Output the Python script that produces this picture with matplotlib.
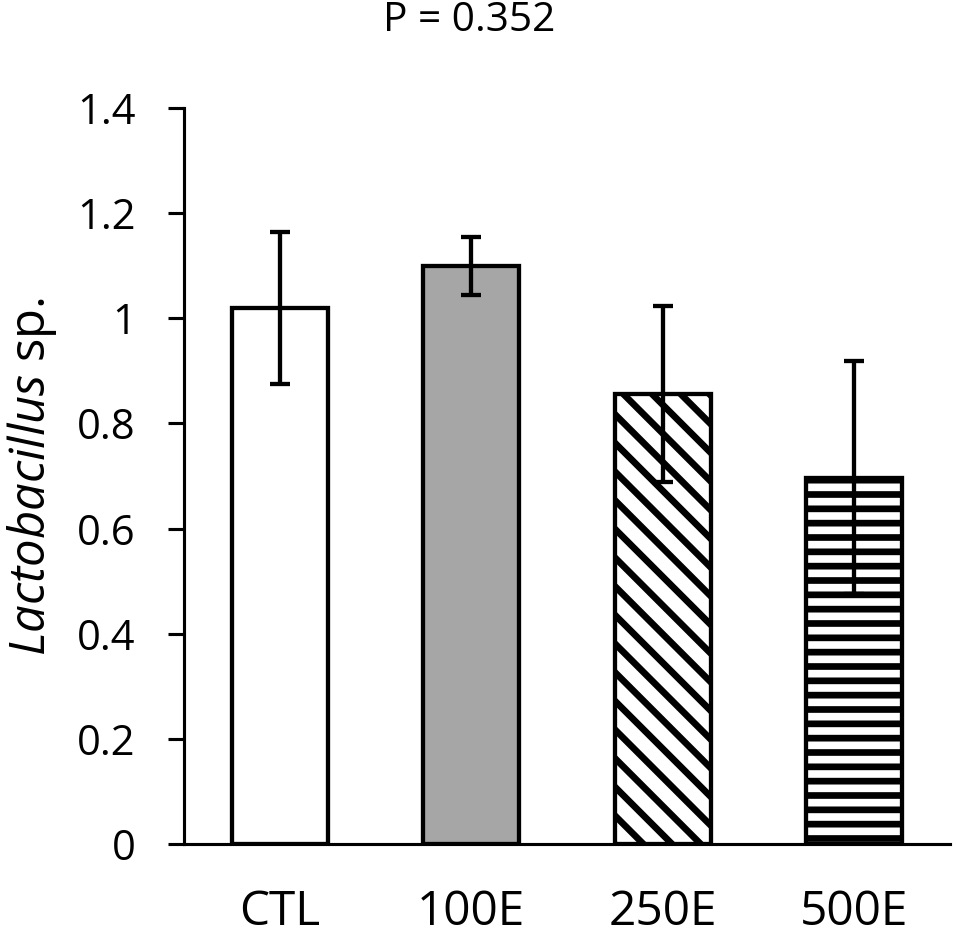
import numpy as np
import matplotlib
matplotlib.use('Agg')
import matplotlib.pyplot as plt
from matplotlib.ticker import FuncFormatter

groups = ['CTL', '100E', '250E', '500E']
means = [1.02, 1.10, 0.856, 0.697]
errors = [0.145, 0.055, 0.167, 0.221]
fills = ['white', '#a6a6a6', 'white', 'white']
hatches = ['', '', '\\\\', '--']
p_text = 'P = 0.352'
y_ticks = [0, 0.2, 0.4, 0.6, 0.8, 1.0, 1.2, 1.4]

plt.rcParams['font.family'] = ['Open Sans', 'DejaVu Sans']
plt.rcParams['mathtext.fontset'] = 'custom'
plt.rcParams['mathtext.it'] = 'Open Sans:italic'
plt.rcParams['mathtext.rm'] = 'Open Sans'
plt.rcParams['hatch.linewidth'] = 2.8
plt.rcParams['hatch.color'] = 'black'

dpi = 172
fig = plt.figure(figsize=(957 / dpi, 934 / dpi), dpi=dpi)
ax = fig.add_axes([184 / 957, 1 - 844 / 934, (950 - 184) / 957, (844 - 108) / 934])

x = np.arange(len(groups))
bars = ax.bar(x, means, width=0.5, color=fills, edgecolor='black',
              linewidth=1.8, zorder=2)
for b, h in zip(bars, hatches):
    b.set_hatch(h)

ax.errorbar(x, means, yerr=errors, fmt='none', ecolor='black',
            elinewidth=1.8, capsize=4, capthick=1.8, zorder=3)

ax.set_xlim(-0.5, 3.5)
ax.set_ylim(0, 1.4)
ax.set_yticks(y_ticks)
ax.yaxis.set_major_formatter(FuncFormatter(lambda v, pos: '%g' % v))
ax.set_xticks(x)
ax.set_xticklabels(groups, fontsize=20)

ax.tick_params(axis='y', direction='out', length=6.7, width=1.3,
               pad=13.5, labelsize=17.5)
ax.tick_params(axis='x', length=0, pad=18.5)

for s in ['top', 'right']:
    ax.spines[s].set_visible(False)
for s in ['left', 'bottom']:
    ax.spines[s].set_linewidth(1.3)

fig.text(32 / 957, 0.5 * ((1 - 844 / 934) + (1 - 108 / 934)),
         r'$\it{Lactobacillus}$ sp.', rotation=90, ha='center', va='center',
         fontsize=20.5)
fig.text(469 / 957, 1 - 21 / 934, p_text, ha='center', va='center', fontsize=17)

fig.savefig('out.png', dpi=dpi)
